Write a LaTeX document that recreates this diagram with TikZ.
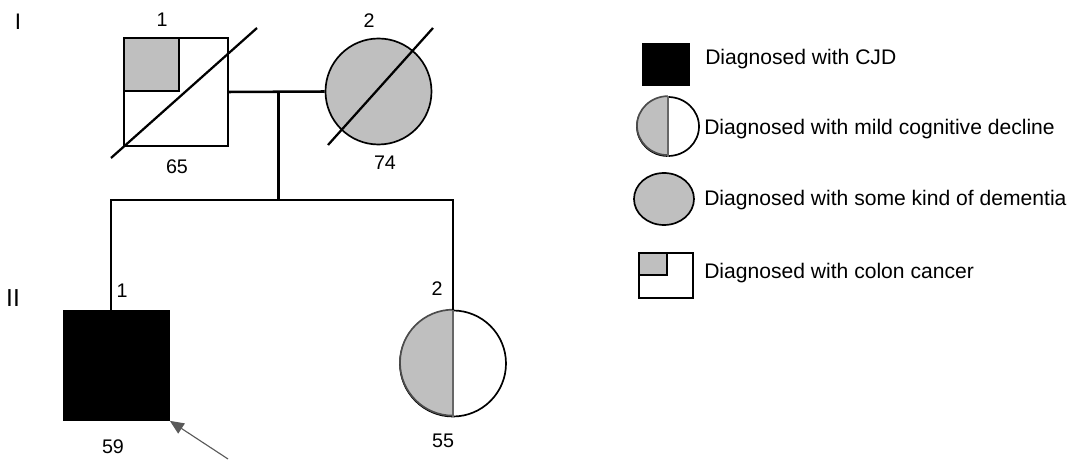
\documentclass[tikz,border=0pt]{standalone}
\usepackage{fontspec}
\setmainfont{Liberation Sans}
\usetikzlibrary{arrows.meta,positioning,calc,shapes.geometric}

\begin{document}
\begin{tikzpicture}[line width=1.8pt]
	\useasboundingbox (0,0) rectangle (26.775,-11.5);

	\colorlet{aff}{black!25}
	\tikzstyle{male}=[rectangle, draw, fill=white, inner sep=0pt, line width=1.2pt]
	\tikzstyle{female}=[circle, draw, fill=white, inner sep=0pt, minimum size=2.65cm, line width=1.2pt]
	\tikzstyle{keyell}=[ellipse, draw, inner sep=0pt, line width=1.2pt]
	\tikzstyle{num}=[inner sep=0pt, font=\fontsize{14}{16}\selectfont]
	\tikzstyle{gen}=[inner sep=0pt, font=\fontsize{16}{18}\selectfont]
	\tikzstyle{txt}=[inner sep=0pt, anchor=west, font=\fontsize{15}{18}\selectfont]

	% generation I
	\node[gen] (gI) at (0.45,-0.55) {I};
	\node[male, minimum width=2.6cm, minimum height=2.7cm] (i1) at (4.4,-2.3) {};
	\node[male, fill=aff, minimum width=1.375cm, minimum height=1.325cm, anchor=north west] (i1c) at (i1.north west) {};
	\node[female, fill=aff] (i2) at (9.4625,-2.2875) {};
	\draw[line width=1.6pt] ($(i1.center)+(-1.625,-1.65)$) -- ($(i1.center)+(2.025,1.6)$);
	\draw[line width=1.6pt] ($(i2.center)+(-1.2625,-1.3375)$) -- ($(i2.center)+(1.3625,1.5875)$);
	\node[num] (n11) at (4.05,-0.5) {1};
	\node[num] (n12) at (9.225,-0.525) {2};
	\node[num] (a11) at (4.425,-4.175) {65};
	\node[num] (a12) at (9.625,-4.075) {74};

	% generation II
	\node[gen, font=\fontsize{17.5}{20}\selectfont] (gII) at (0.325,-7.45) {II};
	\node[male, fill=black, minimum width=2.625cm, minimum height=2.725cm] (ii1) at (2.9125,-9.1375) {};
	\node[female] (ii2) at (11.325,-9.0875) {};
	\fill[aff] (ii2.north) arc (90:270:1.325) -- cycle;
	\draw[line width=1.2pt, black!70] (ii2.north) arc (90:270:1.325);
	\draw[line width=1pt, black!60] (ii2.north) -- (ii2.south);
	\node[num] (n21) at (3.05,-7.275) {1};
	\node[num] (n22) at (10.925,-7.225) {2};
	\node[num] (a21) at (2.825,-11.175) {59};
	\node[num] (a22) at (11.075,-11.025) {55};

	% lines of descent
	\coordinate (mate) at ($(i1.east)!0.52!(i2.west)$);
	\coordinate (sib) at (mate |- 0,-5);
	\coordinate (sibL) at (2.775,-5);
	\coordinate (sibR) at (ii2.north |- 0,-5);
	\draw (i1.east) -- (i2.west);
	\draw (mate) -- (sib);
	\draw (sibL |- ii1.north) -- (sibL) -- (sibR) -- (ii2.north);

	% proband
	\coordinate (ptr) at (5.7,-11.475);
	\draw[-{Triangle[length=0.35cm,width=0.3cm]}, black!65, line width=0.8pt] (ptr) -- (ii1.south east);

	% legend
	\node[male, fill=black, minimum width=1.15cm, minimum height=1.025cm] (k1) at (16.65,-1.6125) {};
	\node[txt] (t1) at (17.6,-1.475) {Diagnosed with CJD};
	\node[keyell, fill=white, minimum width=1.55cm, minimum height=1.475cm] (k2) at (16.7,-3.1625) {};
	\fill[aff] (k2.north) arc (90:270:0.775 and 0.7375) -- cycle;
	\draw[line width=1.2pt, black!70] (k2.north) arc (90:270:0.775 and 0.7375);
	\draw[line width=1pt, black!60] (k2.north) -- (k2.south);
	\node[txt] (t2) at (17.575,-3.225) {Diagnosed with mild cognitive decline};
	\node[keyell, fill=aff, minimum width=1.5cm, minimum height=1.3cm] (k3) at (16.6,-4.975) {};
	\node[txt] (t3) at (17.575,-5.0) {Diagnosed with some kind of dementia};
	\node[male, minimum width=1.35cm, minimum height=1.125cm] (k4) at (16.65,-6.8875) {};
	\node[male, fill=aff, minimum width=0.7cm, minimum height=0.55cm, anchor=north west] (k4c) at (k4.north west) {};
	\node[txt] (t4) at (17.575,-6.825) {Diagnosed with colon cancer};

\end{tikzpicture}
\end{document}
